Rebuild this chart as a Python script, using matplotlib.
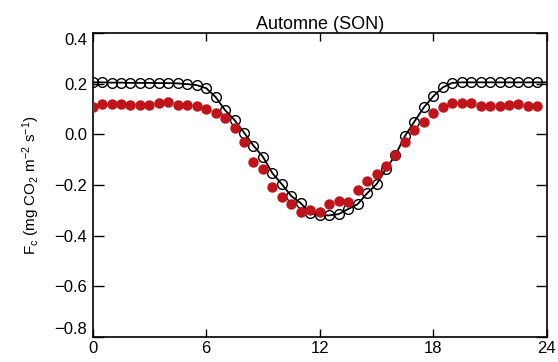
"""
Diurnal cycle of CO2 flux, autumn (SON): observed (red dots) vs model (open circles).
"""

import matplotlib
matplotlib.use("Agg")
import matplotlib.pyplot as plt
import numpy as np

plt.rcParams.update({
    "font.family":      ["Liberation Sans", "DejaVu Sans"],
    "mathtext.default": "regular",
})

# ── data (half-hourly) ────────────────────────────────────────────────────────
hours = np.arange(0, 24, 0.5)

model = [0.205, 0.205, 0.204, 0.204, 0.203, 0.203, 0.203, 0.202, 0.202, 0.201,
         0.198, 0.194, 0.182, 0.147, 0.095, 0.056, 0.007, -0.045, -0.089, -0.154,
         -0.197, -0.244, -0.272, -0.312, -0.320, -0.320, -0.315, -0.295, -0.276, -0.233,
         -0.197, -0.137, -0.082, -0.007, 0.050, 0.106, 0.150, 0.185, 0.203, 0.205,
         0.205, 0.205, 0.205, 0.205, 0.205, 0.205, 0.205, 0.205]

obs = [0.109, 0.121, 0.121, 0.119, 0.115, 0.115, 0.117, 0.122, 0.127, 0.115,
       0.115, 0.112, 0.101, 0.085, 0.063, 0.024, -0.030, -0.109, -0.137, -0.209,
       -0.246, -0.277, -0.305, -0.299, -0.305, -0.277, -0.264, -0.268, -0.218, -0.185,
       -0.157, -0.124, -0.082, -0.029, 0.017, 0.047, 0.086, 0.109, 0.122, 0.122,
       0.122, 0.113, 0.113, 0.113, 0.116, 0.118, 0.113, 0.113]

TITLE  = "Automne (SON)"
YLABEL = r"F$_{c}$ (mg CO$_{2}$ m$^{-2}$ s$^{-1}$)"
XTICKS = [0, 6, 12, 18, 24]
YTICKS = [-0.8, -0.6, -0.4, -0.2, 0.0, 0.2, 0.4]
RED    = "#c0141a"

# ── figure ────────────────────────────────────────────────────────────────────
fig = plt.figure(figsize=(5.58, 3.62), dpi=100)
ax = fig.add_axes([0.166, 0.069, 0.814, 0.840])

# model line wraps around to hour 24
line_x = np.append(hours, 24.0)
line_y = np.append(model, model[0])
ax.plot(line_x, line_y, color="black", linewidth=1.3, zorder=2)
ax.plot(hours, model, linestyle="none", marker="o", markersize=7,
        markerfacecolor="none", markeredgecolor="black", markeredgewidth=1.0,
        zorder=3)
ax.plot(hours, obs, linestyle="none", marker="o", markersize=7.5,
        markerfacecolor=RED, markeredgecolor=RED, markeredgewidth=0,
        zorder=4)

ax.set_xlim(0, 24)
ax.set_ylim(-0.8, 0.4)
ax.set_xticks(XTICKS)
ax.set_yticks(YTICKS)
ax.set_yticklabels([f"{v:.1f}".replace("-", "\u2212") for v in YTICKS])
ax.tick_params(axis="both", which="both", direction="in", top=True, right=True,
               labelsize=12, width=1.0, color="black")
ax.tick_params(axis="x", length=6, pad=3)
ax.tick_params(axis="y", length=8, pad=4)
# keep end labels inside the frame, as in the original
ylabels = ax.get_yticklabels()
ylabels[0].set_verticalalignment("bottom")
ylabels[-1].set_verticalalignment("top")
for s in ax.spines.values():
    s.set_linewidth(1.2)

ax.set_title(TITLE, fontsize=13, pad=3)
ax.set_ylabel(YLABEL, fontsize=11, labelpad=9)

fig.savefig("out.png", dpi=100)
